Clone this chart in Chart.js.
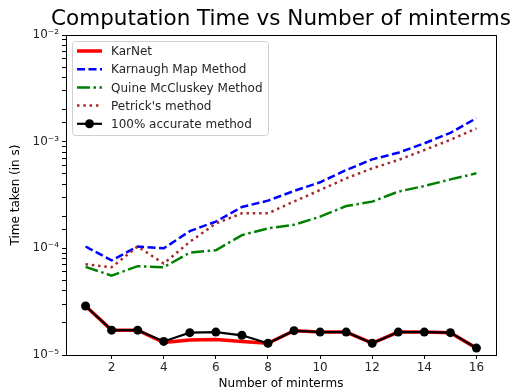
<!DOCTYPE html>
<html>
<head>
<meta charset="utf-8">
<script src="https://cdn.jsdelivr.net/npm/chart.js@4.4.0/dist/chart.umd.min.js"></script>
<style>
body{margin:0;background:#fff;}
canvas{display:block;}
</style>
</head>
<body>
<canvas id="timeChart" width="516" height="392"></canvas>
<script>
// values (seconds)
const minterms=[1,2,3,4,5,6,7,8,9,10,11,12,13,14,15,16];
const karnet=[2.88e-5,1.71e-5,1.71e-5,1.31e-5,1.38e-5,1.40e-5,1.34e-5,1.29e-5,1.69e-5,1.64e-5,1.64e-5,1.29e-5,1.64e-5,1.64e-5,1.62e-5,1.16e-5];
const karnaugh=[1.04e-4,7.7e-5,1.04e-4,1.0e-4,1.45e-4,1.78e-4,2.44e-4,2.8e-4,3.45e-4,4.16e-4,5.42e-4,6.82e-4,7.88e-4,9.64e-4,1.21e-3,1.66e-3];
const quine=[6.7e-5,5.55e-5,6.8e-5,6.65e-5,9.1e-5,9.6e-5,1.33e-4,1.54e-4,1.66e-4,1.98e-4,2.49e-4,2.74e-4,3.4e-4,3.84e-4,4.43e-4,5.05e-4];
const petrick=[7.1e-5,6.65e-5,1.04e-4,7.2e-5,1.15e-4,1.71e-4,2.13e-4,2.13e-4,2.75e-4,3.52e-4,4.53e-4,5.62e-4,6.73e-4,8.35e-4,1.04e-3,1.33e-3];
const accurate=[2.88e-5,1.71e-5,1.71e-5,1.34e-5,1.62e-5,1.64e-5,1.53e-5,1.29e-5,1.69e-5,1.64e-5,1.64e-5,1.29e-5,1.64e-5,1.64e-5,1.62e-5,1.16e-5];
const xTickValues=[2,4,6,8,10,12,14,16];
const seriesNames=["KarNet","Karnaugh Map Method","Quine McCluskey Method","Petrick's method","100% accurate method"];

const FONT='"DejaVu Sans", sans-serif';
const sup={"-":"\u207B","0":"\u2070","1":"\u00B9","2":"\u00B2","3":"\u00B3","4":"\u2074","5":"\u2075","6":"\u2076","7":"\u2077","8":"\u2078","9":"\u2079"};
function powLabel(v){
  const e=Math.log10(v);
  if(Math.abs(e-Math.round(e))>1e-6) return "";
  return "10"+String(Math.round(e)).split("").map(c=>sup[c]).join("");
}
function toPoints(arr){
  return arr.map((v,i)=>({x:minterms[i],y:v}));
}

const styles=[
  {color:"#ff0000",width:3.5,dash:[]},
  {color:"#0000ff",width:2.5,dash:[8,3.5]},
  {color:"#008000",width:2.5,dash:[13,3.5,2.5,3.5]},
  {color:"#a52a2a",width:2.5,dash:[2.5,3.8]},
  {color:"#000000",width:2.2,dash:[],marker:true}
];

const extras={
  id:"extras",
  afterDraw(chart){
    const ctx=chart.ctx;
    const a=chart.chartArea;
    ctx.save();
    // frame
    ctx.strokeStyle="#000";
    ctx.lineWidth=1;
    ctx.strokeRect(Math.round(a.left)+0.5,Math.round(a.top)+0.5,Math.round(a.right-a.left),Math.round(a.bottom-a.top));
    // title
    ctx.fillStyle="#000";
    ctx.textAlign="center";
    ctx.textBaseline="middle";
    ctx.font="21.5px "+FONT;
    ctx.fillText("Computation Time vs Number of minterms",(a.left+a.right)/2,19);
    ctx.font="12px "+FONT;
    ctx.fillText("Number of minterms",(a.left+a.right)/2,384);
    ctx.save();
    ctx.translate(16,(a.top+a.bottom)/2);
    ctx.rotate(-Math.PI/2);
    ctx.fillText("Time taken (in s)",0,0);
    ctx.restore();
    // legend
    const lx=72.5,ly=41.5,lw=196,lh=94;
    ctx.fillStyle="rgba(255,255,255,0.85)";
    ctx.strokeStyle="#d0d0d0";
    ctx.lineWidth=1;
    ctx.beginPath();
    ctx.roundRect(lx,ly,lw,lh,3);
    ctx.fill();
    ctx.stroke();
    ctx.textAlign="left";
    ctx.font="12px "+FONT;
    for(let i=0;i<seriesNames.length;i++){
      const y=51+i*18.2;
      const s=styles[i];
      ctx.strokeStyle=s.color;
      ctx.lineWidth=s.width;
      ctx.setLineDash(s.dash);
      ctx.beginPath();
      ctx.moveTo(77,y);
      ctx.lineTo(102,y);
      ctx.stroke();
      ctx.setLineDash([]);
      if(s.marker){
        ctx.fillStyle=s.color;
        ctx.beginPath();
        ctx.arc(89.5,y,4.5,0,Math.PI*2);
        ctx.fill();
      }
      ctx.fillStyle="#262626";
      ctx.fillText(seriesNames[i],111,y+1);
    }
    ctx.restore();
  }
};

const dataArrays=[karnet,karnaugh,quine,petrick,accurate];
const datasets=dataArrays.map((arr,i)=>({
  label:seriesNames[i],
  data:toPoints(arr),
  borderColor:styles[i].color,
  backgroundColor:styles[i].color,
  borderWidth:styles[i].width,
  borderDash:styles[i].dash,
  pointRadius:styles[i].marker?4.5:0,
  pointBorderWidth:0,
  tension:0,
  fill:false,
  order:i==4?0:5-i
}));

const ctx=document.getElementById("timeChart").getContext("2d");
new Chart(ctx,{
  type:"line",
  data:{datasets:datasets},
  options:{
    responsive:false,
    animation:false,
    devicePixelRatio:1,
    layout:{padding:{top:35,right:20,left:0,bottom:0}},
    plugins:{legend:{display:false},tooltip:{enabled:false},title:{display:false}},
    scales:{
      x:{
        type:"linear",
        min:0.25,
        max:16.75,
        afterBuildTicks(scale){
          scale.ticks=xTickValues.map(v=>({value:v}));
        },
        afterFit(scale){scale.height=37;},
        grid:{drawOnChartArea:false,tickLength:4,tickColor:"#000"},
        border:{color:"#000"},
        ticks:{color:"#262626",font:{family:FONT,size:12},padding:2,maxRotation:0}
      },
      y:{
        type:"logarithmic",
        min:1e-5,
        max:1e-2,
        afterFit(scale){scale.width=66;},
        grid:{drawOnChartArea:false,tickLength:4,tickColor:"#000"},
        border:{color:"#000"},
        ticks:{color:"#262626",font:{family:FONT,size:12},padding:3,autoSkip:false,callback:(v)=>powLabel(v)}
      }
    }
  },
  plugins:[extras]
});
</script>
</body>
</html>
